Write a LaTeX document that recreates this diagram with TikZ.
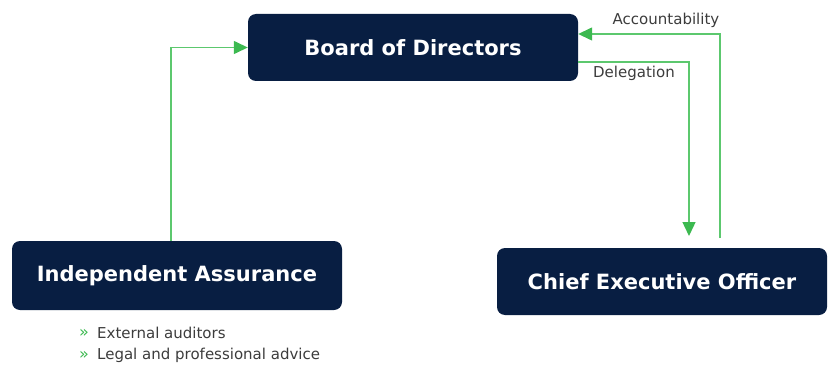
\documentclass[tikz,border=0pt]{standalone}
\usepackage{fontspec}
\setmainfont{DejaVu Sans}
\usetikzlibrary{arrows.meta,calc}
\definecolor{navy}{RGB}{8,30,66}
\definecolor{lgreen}{RGB}{92,200,110}
\definecolor{agreen}{RGB}{60,185,80}
\definecolor{txt}{RGB}{60,60,60}
\tikzset{
  box/.style={fill=navy,rounded corners=8pt,text=white,font=\fontsize{21}{25}\selectfont\bfseries,minimum width=330pt,minimum height=67pt,inner sep=0pt},
  conn/.style={draw=lgreen,line width=1.4pt,-{Triangle[length=14pt,width=13pt,color=agreen]}},
  lab/.style={text=txt,font=\fontsize{15}{17}\selectfont,inner sep=0pt},
  bul/.style={text=txt,font=\fontsize{15}{17}\selectfont,inner sep=0pt,anchor=west},
  bulletmark/.style={text=agreen,font=\fontsize{16}{18}\selectfont,inner sep=0pt},
}
\begin{document}
\begin{tikzpicture}[x=1pt,y=1pt]
\useasboundingbox (0,0) rectangle (830,365);
\node[box] (board) at (413,317.5) {Board of Directors};
\node[box,minimum height=69pt] (ia) at (177,89.5) {Independent Assurance};
\node[box] (ceo) at (662,83.5) {Chief Executive Officer};
\coordinate (iastart) at ($(ia.north)+(-6,0)$);
\coordinate (accstart) at (720,127);
\coordinate (delend) at (689,129);
\draw[conn] (iastart) |- (board.west);
\draw[conn] (accstart) |- ($(board.east)+(0,13.5)$);
\draw[conn] ($(board.east)+(0,-14.5)$) -| (delend);
\node[lab] (acc) at (666,345) {Accountability};
\node[lab] (del) at (634,292) {Delegation};
\node[bul] (b1) at (97,32) {External auditors};
\node[bul] (b2) at (97,10) {Legal and professional advice};
\node[bulletmark] (m1) at (84,32) {»};
\node[bulletmark] (m2) at (84,10) {»};
\end{tikzpicture}
\end{document}
